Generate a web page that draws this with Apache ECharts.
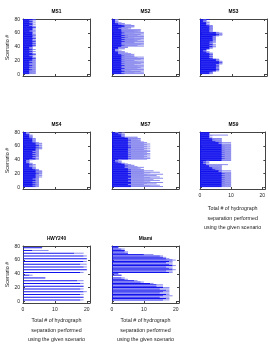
<!DOCTYPE html>
<html>
<head>
<meta charset="utf-8">
<script src="https://cdn.jsdelivr.net/npm/echarts@6/dist/echarts.min.js"></script>
<style>
  html, body { margin: 0; padding: 0; background: #fff; }
  #chart { width: 268px; height: 346px; }
</style>
</head>
<body>
<div id="chart"></div>
<script>
// scenario counts, scenario 1 .. 80 (bottom to top)
const yTicks = [0, 20, 40, 60, 80];
const xTicks = [0, 10, 20];

const ms1Dark = [2,3,2,2,3,2,3,2,2,3, 2,3,3,2,3,2,3,3,2,3, 3,3,4,3,3,3,2,3,4,3, 3,2,3,3,2,3,3,2,2,3,
                 3,4,3,3,4,3,3,4,3,3, 3,4,3,3,3,4,3,3,3,3, 3,3,2,3,3,3,3,4,3,3, 2,3,3,3,2,3,3,2,3,4];
const ms1Light = [2,1,2,2,1,2,1,2,2,1, 2,1,1,2,1,2,1,1,2,1, 1,1,0,1,1,0,1,1,0,1, 0,1,1,0,1,1,0,1,1,0,
                  1,0,1,1,0,1,0,0,1,1, 0,0,1,1,0,0,1,1,0,1, 0,1,1,1,0,1,0,0,1,1, 1,0,1,0,1,1,0,1,1,0];

const ms2Dark = [4,3,3,4,4,3,3,4,4,3, 3,4,4,3,3,4,3,3,4,3, 3,4,3,3,4,3,4,3,3,2, 2,2,2,1,1,1,2,2,2,3,
                 3,4,3,4,3,3,7,4,3,7, 4,3,4,5,3,4,5,3,4,3, 4,3,7,3,3,3,2,3,4,4, 4,3,2,2,1,1,1,1,1,1];
const ms2Light = [6,4,7,5,6,3,7,4,6,6, 7,4,6,4,7,5,7,5,6,4, 7,5,7,5,6,4,3,3,4,4, 3,2,2,2,1,1,2,2,3,2,
                  7,4,7,5,7,4,3,6,5,3, 5,7,3,5,7,4,5,6,6,4, 6,6,1,6,6,3,3,3,3,3, 3,3,2,2,2,1,1,0,1,1];

const ms3Dark = [3,4,3,4,5,5,6,5,6,5, 6,5,6,5,6,6,7,6,6,5, 6,5,4,3,3,4,3,3,4,3, 3,2,2,1,2,2,3,3,3,4,
                 4,3,4,4,3,4,3,4,4,5, 4,4,5,4,4,5,6,6,5,6, 5,3,3,3,3,4,3,3,4,3, 3,2,2,2,2,2,1,2,1,3];
const ms3Light = [1,0,1,1,1,1,0,1,0,1, 0,1,0,1,1,1,0,1,1,1, 0,1,0,1,1,0,1,1,0,1, 1,0,1,1,0,0,0,1,1,1,
                  1,1,1,0,1,1,1,1,0,0, 1,1,0,1,1,1,1,1,2,1, 1,1,1,1,1,0,1,1,0,1, 1,1,1,0,1,1,1,0,1,0];

const ms4Dark = [4,3,4,4,3,4,4,3,4,4, 4,3,4,4,5,4,4,5,4,5, 4,5,4,5,4,4,3,3,3,2, 3,2,3,2,2,1,2,1,1,2,
                 4,4,3,4,4,3,4,4,3,4, 4,3,4,4,4,5,4,5,4,5, 5,4,5,4,4,3,3,3,3,3, 3,2,3,2,2,2,2,1,1,1];
const ms4Light = [1,2,1,1,2,1,1,2,1,1, 1,2,1,1,1,1,2,1,1,1, 2,1,2,1,1,1,1,1,1,1, 1,1,1,1,1,1,0,1,1,1,
                  1,1,1,1,1,2,1,1,2,1, 1,2,1,1,1,1,2,1,1,1, 1,1,1,2,1,1,1,1,1,1, 1,1,0,1,1,1,0,1,1,1];

const ms7Dark = [6,6,6,5,6,6,6,6,5,6, 6,6,5,6,6,6,6,5,6,6, 6,5,6,6,5,6,5,5,4,5, 4,5,4,4,3,2,1,2,1,2,
                 5,6,5,5,6,5,5,6,5,5, 6,5,5,6,5,6,5,6,6,5, 6,5,6,5,6,5,5,6,5,6, 5,5,4,3,3,3,3,2,3,1];
const ms7Light = [10,6,9,5,8,5,10,6,5,9, 7,4,11,6,9,4,8,6,10,4, 6,10,4,7,5,4,4,3,6,3, 3,2,2,1,1,1,2,1,1,1,
                  6,6,5,7,5,5,7,5,7,5, 5,7,6,6,5,5,7,4,5,7, 4,6,6,5,5,5,4,3,3,3, 4,3,4,1,1,1,1,1,1,1];

const ms9Dark = [7,8,7,7,8,7,7,8,7,7, 8,7,7,8,7,7,8,7,7,8, 7,7,6,7,6,5,4,6,4,3, 3,3,2,2,1,2,1,2,7,7,
                 7,8,7,7,8,7,7,8,7,7, 8,7,7,8,7,7,8,7,7,8, 7,7,7,6,7,6,5,4,5,4, 4,3,3,3,3,3,3,3,3,3];
const ms9Light = [3,2,3,3,2,3,3,2,3,3, 2,3,3,2,3,3,2,3,3,2, 3,3,1,3,1,2,3,1,3,4, 4,4,7,1,1,1,1,1,3,3,
                  3,2,3,3,2,3,3,2,3,3, 2,3,3,2,3,3,2,3,3,2, 3,3,3,1,3,1,2,3,2,3, 3,1,0,0,1,6,0,0,0,0];

const hwyDark = [0,18,0,0,0,19,0,0,0,18, 0,0,0,19,0,0,0,18,0,0, 0,19,0,0,0,18,0,0,0,17, 0,0,0,7,0,0,0,2,0,0,
                 0,18,0,0,0,20,0,0,0,19, 0,0,0,18,0,0,0,19,0,0, 0,20,0,0,0,19,0,0,0,16, 0,0,0,3,0,0,0,6,0,0];
const hwyLight = [0,1,0,0,0,0,0,0,0,1, 0,0,0,1,0,0,0,1,0,0, 0,0,0,0,0,1,0,0,0,2, 0,0,0,0,0,0,0,1,0,0,
                  0,1,0,0,0,0,0,0,0,1, 0,0,0,2,0,0,0,1,0,0, 0,0,0,0,0,1,0,0,0,3, 0,0,0,5,0,0,0,0,0,0];

const miamiDark = [0,16,0,17,0,15,0,16,0,17, 0,15,0,16,0,17,0,15,0,16, 0,14,0,14,0,12,0,9,0,7, 0,4,0,3,0,0,0,3,0,2,
                   0,18,0,17,0,19,0,18,0,17, 0,19,0,18,0,17,0,18,0,19, 0,17,0,16,0,15,0,10,0,5, 0,4,0,4,0,3,0,2,0,2];
const miamiLight = [0,2,0,1,0,3,0,3,0,1, 0,3,0,2,0,1,0,3,0,2, 0,2,0,2,0,1,0,1,0,1, 0,1,0,1,0,0,0,0,0,0,
                    0,1,0,2,0,1,0,1,0,2, 0,1,0,1,0,2,0,1,0,1, 0,1,0,1,0,1,0,3,0,0, 0,1,0,0,0,1,0,0,0,0];

const panels = [
  { title: 'MS1', dark: ms1Dark, light: ms1Light, row: 0, col: 0 },
  { title: 'MS2', dark: ms2Dark, light: ms2Light, row: 0, col: 1 },
  { title: 'MS3', dark: ms3Dark, light: ms3Light, row: 0, col: 2 },
  { title: 'MS4', dark: ms4Dark, light: ms4Light, row: 1, col: 0 },
  { title: 'MS7', dark: ms7Dark, light: ms7Light, row: 1, col: 1 },
  { title: 'MS9', dark: ms9Dark, light: ms9Light, row: 1, col: 2, xlab: true, gap: 15 },
  { title: 'HWY240', dark: hwyDark, light: hwyLight, row: 2, col: 0, xlab: true, gap: 13 },
  { title: 'Miami', dark: miamiDark, light: miamiLight, row: 2, col: 1, xlab: true, gap: 13 }
];

// layout
const colLeft = [23, 112, 200];
const rowTop = [19, 132, 246];
const W = 67, H = 57;
const FONT = 'Liberation Sans, Arial, sans-serif';
const AXIS = '#444';
const xName = 'Total # of hydrograph\nseparation performed\nusing the given scenario';

// y axis bands: -2 .. 80 so the box sits a little below 0, like the original
const cats = [];
for (let s = -2; s <= 80; s++) cats.push(String(s));
const pad = [null, null, null];
const isTick = (i, v) => yTicks.indexOf(+v) >= 0;

const grid = [], xAxis = [], yAxis = [], title = [], series = [];

panels.forEach((p, i) => {
  const left = colLeft[p.col], top = rowTop[p.row];
  grid.push({ left: left, top: top, width: W, height: H });
  title.push({
    text: p.title, left: left + W / 2, top: top - 10, textAlign: 'center', padding: 0,
    textStyle: { fontSize: 4.8, fontWeight: 'bold', fontFamily: FONT, color: '#000' }
  });
  const xBase = {
    gridIndex: i, type: 'value', min: 0, max: 21, interval: 10,
    axisLine: { show: true, onZero: false, lineStyle: { color: AXIS, width: 1 } },
    axisTick: { show: true, inside: true, length: 2, lineStyle: { color: AXIS } },
    splitLine: { show: false }
  };
  xAxis.push(Object.assign({}, xBase, {
    position: 'bottom',
    axisLabel: { show: !!p.xlab, fontSize: 5, margin: 4, color: '#222', fontFamily: FONT },
    name: p.xlab ? xName : '', nameLocation: 'middle', nameGap: p.gap || 13,
    nameTextStyle: { fontSize: 5.3, lineHeight: 9.6, color: '#222', fontFamily: FONT }
  }));
  xAxis.push(Object.assign({}, xBase, { position: 'top', axisLabel: { show: false } }));

  const yBase = {
    gridIndex: i, type: 'category', data: cats,
    axisLine: { show: true, onZero: false, lineStyle: { color: AXIS, width: 1 } },
    axisTick: { show: true, inside: true, length: 2, alignWithLabel: true, interval: isTick, lineStyle: { color: AXIS } },
    splitLine: { show: false }
  };
  yAxis.push(Object.assign({}, yBase, {
    position: 'left',
    axisLabel: { show: p.col === 0, interval: isTick, fontSize: 5, margin: 3, color: '#222', fontFamily: FONT },
    name: p.col === 0 ? 'Scenario #' : '', nameLocation: 'middle', nameGap: 13, nameRotate: 90,
    nameTextStyle: { fontSize: 5.3, color: '#222', fontFamily: FONT }
  }));
  yAxis.push(Object.assign({}, yBase, { position: 'right', axisLabel: { show: false } }));

  series.push({
    type: 'bar', xAxisIndex: 2 * i, yAxisIndex: 2 * i, stack: 's' + i,
    barWidth: '80%', data: pad.concat(p.dark), itemStyle: { color: '#1212ee' }, silent: true
  });
  series.push({
    type: 'bar', xAxisIndex: 2 * i, yAxisIndex: 2 * i, stack: 's' + i,
    barWidth: '80%', data: pad.concat(p.light), itemStyle: { color: '#8a8aee' }, silent: true
  });
});

const chart = echarts.init(document.getElementById('chart'));
chart.setOption({
  animation: false,
  backgroundColor: '#fff',
  title: title,
  grid: grid,
  xAxis: xAxis,
  yAxis: yAxis,
  series: series
});
</script>
</body>
</html>
